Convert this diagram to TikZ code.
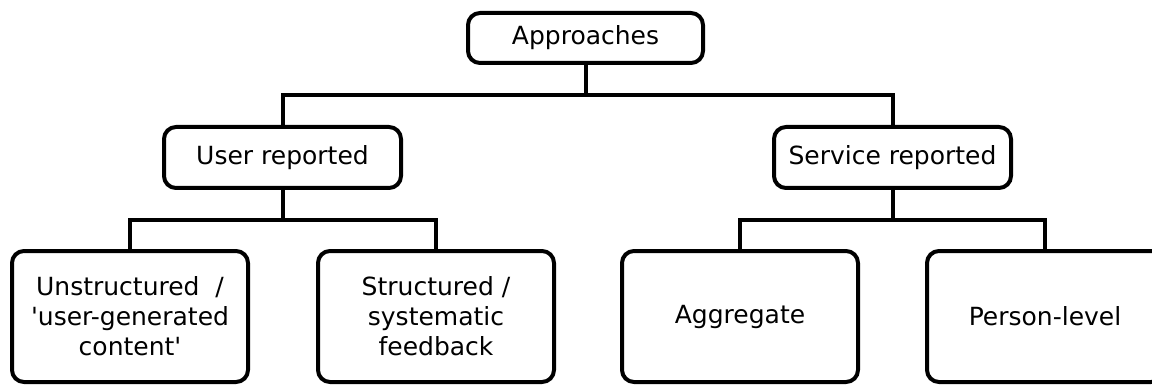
\documentclass[tikz,border=0pt]{standalone}
\usepackage{fontspec}
\setmainfont{DejaVu Sans}
\usetikzlibrary{positioning}

\begin{document}
\begin{tikzpicture}[
  x=1pt,y=-1pt,
  box/.style={draw=black,line width=4pt,rounded corners=12pt,fill=white,align=center,
    inner sep=0pt,font=\fontsize{25}{30}\selectfont},
  topbox/.style={box,minimum width=235pt,minimum height=50pt},
  midbox/.style={box,minimum width=237pt,minimum height=61pt},
  leafbox/.style={box,minimum width=236pt,minimum height=131pt},
  link/.style={draw=black,line width=4pt}
]
\useasboundingbox (0,0) rectangle (1152,385);
\clip (0,0) rectangle (1152,385);
% nodes
\node[topbox] (appr) at (585.5,38) {Approaches};
\node[midbox] (user) at (282.5,157.5) {User reported};
\node[midbox] (serv) at (892.5,157.5) {Service reported};
\node[leafbox] (unstr) at (130,316.5) {Unstructured~ /\\\textquotesingle user-generated\\content\textquotesingle};
\node[leafbox] (struc) at (436,316.5) {Structured /\\systematic\\feedback};
\node[leafbox] (aggr) at (740,316.5) {Aggregate};
\node[leafbox] (pers) at (1045,316.5) {Person-level};
% junctions
\coordinate (jtop) at (appr.south |- 0,95);
\coordinate (juser) at (user.south |- 0,220);
\coordinate (jserv) at (serv.south |- 0,220);
% connectors
\draw[link] (appr.south) -- (jtop);
\draw[link] (user.north) |- (jtop) -| (serv.north);
\draw[link] (user.south) -- (juser);
\draw[link] (unstr.north) |- (juser) -| (struc.north);
\draw[link] (serv.south) -- (jserv);
\draw[link] (aggr.north) |- (jserv) -| (pers.north);
\end{tikzpicture}
\end{document}
